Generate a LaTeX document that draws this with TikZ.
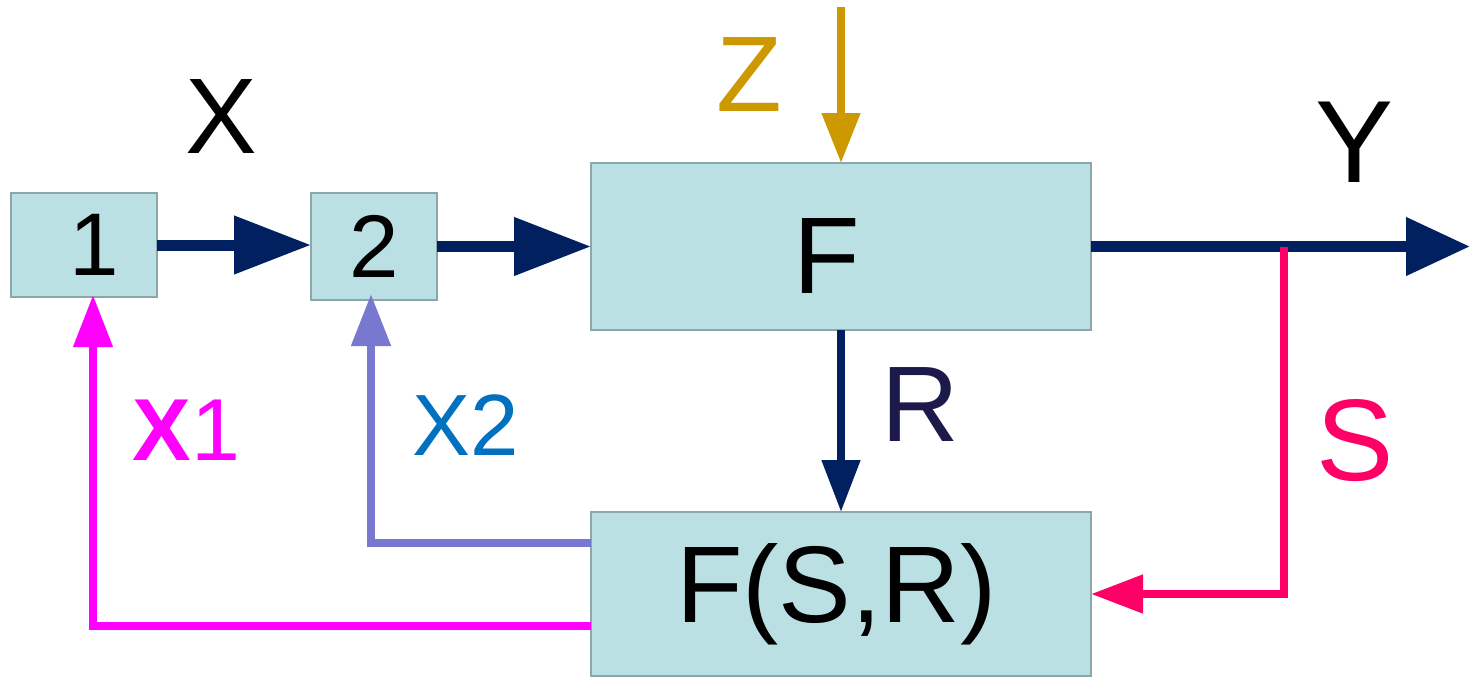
\documentclass[tikz,border=0pt]{standalone}
\usepackage{fontspec}
\setmainfont{Liberation Sans}
\usetikzlibrary{arrows.meta,calc}
\definecolor{boxfill}{HTML}{BAE0E3}
\definecolor{boxline}{HTML}{8BA7A9}
\definecolor{dnavy}{HTML}{002060}
\definecolor{zgold}{HTML}{CC9900}
\definecolor{xmag}{HTML}{FF00FF}
\definecolor{xlav}{HTML}{7878D0}
\definecolor{xtwo}{HTML}{0070C0}
\definecolor{spink}{HTML}{FF0066}
\definecolor{rnavy}{HTML}{1C1A4B}
\newcommand\fsz[1]{\fontsize{#1}{#1}\selectfont}
\begin{document}
\begin{tikzpicture}[x=1pt,y=-1pt,
  blk/.style={draw=boxline,fill=boxfill,line width=2.5pt,inner sep=0pt,outer sep=0pt},
  lbl/.style={inner sep=0pt,anchor=base},
  bigarrow/.style={draw=dnavy,line width=11pt,-{Triangle[length=77pt,width=56pt]}},
  yarrow/.style={draw=dnavy,line width=11pt,-{Triangle[length=64pt,width=56pt]}},
  rarrow/.style={draw=dnavy,line width=8pt,-{Triangle[length=52pt,width=37pt]}},
  zarrow/.style={draw=zgold,line width=8pt,-{Triangle[length=50pt,width=37pt]}},
  sarrow/.style={draw=spink,line width=8pt,-{Triangle[length=52pt,width=37pt]}},
  xonearrow/.style={draw=xmag,line width=7.5pt,-{Triangle[length=52pt,width=38pt]}},
  xtwoarrow/.style={draw=xlav,line width=8pt,-{Triangle[length=52pt,width=38pt]}}
]
\useasboundingbox (0,0) rectangle (1470,677);

% blocks
\node[blk,minimum width=146pt,minimum height=104pt] (b1) at (84,245) {\fsz{89pt}\hspace*{19.6pt}1};
\node[blk,minimum width=126pt,minimum height=107pt] (b2) at (374,246.5) {\fsz{89pt}2};
\node[blk,minimum width=500pt,minimum height=167pt,text height=93pt,text depth=0pt] (F) at (841,246.5) {\fsz{109pt}\hspace*{-28pt}F};
\node[blk,minimum width=500pt,minimum height=164pt,text height=56pt,text depth=0pt] (FSR) at (841,594) {\fsz{109pt}\hspace*{-9pt}F(S,R)};

% labels
\node[lbl] (X) at (221.5,153) {\fsz{107.5pt}X};
\node[lbl,text=zgold] (Z) at (749.5,111) {\fsz{107.5pt}Z};
\node[lbl] (Y) at (1355,182) {\fsz{117pt}Y};
\node[lbl,text=rnavy] (R) at (920.4,441) {\fsz{107.5pt}R};
\node[lbl,text=spink] (S) at (1355,480) {\fsz{116pt}S};
\node[lbl,text=xmag] (X1) at (186.4,460) {\fsz{88pt}\textbf{X}1};
\node[lbl,text=xtwo] (X2) at (466,455) {\fsz{87pt}X2};

% free ends
\coordinate (yend) at (1470,246.5);
\coordinate (sj) at (1284,247);
\coordinate (ztop) at (841,7);

% connectors
\draw[bigarrow] (b1.east) -- (b1.east -| b2.west);
\draw[bigarrow] (b2.east) -- (F.west);
\draw[yarrow] (F.east) -- (yend);
\draw[rarrow] (F.south) -- (FSR.north);
\draw[zarrow] (ztop) -- (F.north);
\draw[sarrow] (sj) |- (FSR.east);
\draw[xonearrow] ($(FSR.west)+(0,32)$) -| ($(b1.south)+(9,-2)$);
\draw[xtwoarrow] ($(FSR.west)+(0,-51)$) -| ($(b2.south)+(-3,-6)$);
\end{tikzpicture}
\end{document}
